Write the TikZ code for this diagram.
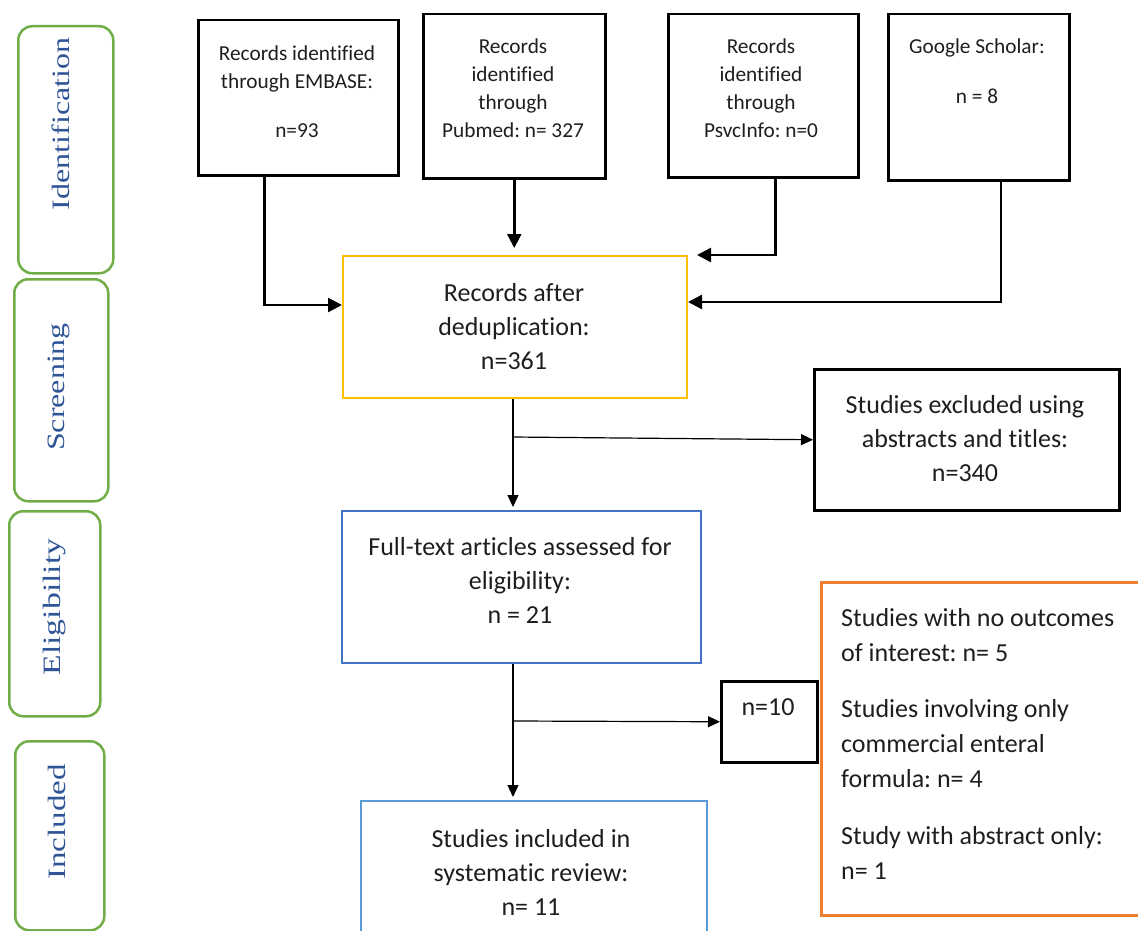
\documentclass[tikz,border=0pt]{standalone}
\usepackage{fontspec}
\setmainfont{Carlito}[Ligatures={NoCommon}]
\newfontfamily\labfont{Liberation Serif}
\usetikzlibrary{arrows.meta}
\definecolor{gr}{RGB}{112,173,71}
\definecolor{labc}{RGB}{47,85,151}
\definecolor{yl}{RGB}{255,192,0}
\definecolor{bl}{RGB}{68,114,196}
\definecolor{lbl}{RGB}{91,155,213}
\definecolor{orn}{RGB}{237,125,49}
\definecolor{txt}{RGB}{30,30,30}
\frenchspacing
\begin{document}
\begin{tikzpicture}[x=1pt,y=-1pt,
  blackbox/.style={draw=black, line width=2.5pt, anchor=north west, inner sep=0pt},
  colbox/.style={draw=#1, line width=2pt, anchor=north west, inner sep=0pt},
  stagebox/.style={draw=gr, line width=2.5pt, rounded corners=14pt, anchor=north west, inner sep=0pt},
  stagetext/.style={rotate=90, text=labc, font=\labfont\fontsize{25}{28}\selectfont, inner sep=0pt},
  small/.style={font=\fontsize{21.3}{28}\selectfont, align=center, text=txt, inner sep=0pt},
  big/.style={font=\fontsize{26}{34}\selectfont, align=center, text=txt, inner sep=0pt},
  tarr/.style={line width=2.5pt, -{Triangle[length=14pt,width=14pt]}},
  narr/.style={line width=1.2pt, -{Triangle[length=12pt,width=11pt]}}
]
\useasboundingbox (0,0) rectangle (1138,931);

% stage labels
\node[stagebox, minimum width=95pt, minimum height=247pt] (idl) at (17,25) {};
\node[stagebox, minimum width=94pt, minimum height=222pt] (scl) at (13,278) {};
\node[stagebox, minimum width=91pt, minimum height=205pt] (ell) at (8,510) {};
\node[stagebox, minimum width=89pt, minimum height=189pt] (inl) at (14,740) {};
\node[stagetext] (idt) at (61,124) {\scalebox{1.28}[1]{Identification}};
\node[stagetext] (sct) at (59,387) {\scalebox{1.28}[1]{Screening}};
\node[stagetext] (elt) at (55,607) {\scalebox{1.35}[1]{Eligibility}};
\node[stagetext] (int) at (57,822) {\scalebox{1.32}[1]{Included}};

% source boxes
\node[blackbox, minimum width=200pt, minimum height=155pt] (emb) at (197,19) {};
\node[blackbox, minimum width=182pt, minimum height=164pt] (pub) at (422,13) {};
\node[blackbox, minimum width=190pt, minimum height=163pt] (psy) at (667,13) {};
\node[blackbox, minimum width=181pt, minimum height=166pt] (goo) at (887,13) {};
\node[small] (embt) at (297,91.5) {Records identified\\through EMBASE:\\[21pt]n=93};
\node[small] (pubt) at (513,88) {Records\\identified\\through\\Pubmed: n= 327};
\node[small] (psyt) at (761,88) {Records\\identified\\through\\PsvcInfo: n=0};
\node[small] (goot) at (977,71) {Google Scholar:\\[22pt]n = 8};

% main boxes
\node[colbox=yl, minimum width=344pt, minimum height=142pt] (dedup) at (342,255) {};
\node[big] (dedupt) at (514,327) {Records after\\deduplication:\\n=361};
\node[blackbox, minimum width=305pt, minimum height=141pt] (excl) at (813,368) {};
\node[big] (exclt) at (965,439) {Studies excluded using\\abstracts and titles:\\n=340};
\node[colbox=bl, minimum width=359pt, minimum height=152pt] (full) at (341,510) {};
\node[big] (fullt) at (520,580.5) {Full-text articles assessed for\\eligibility:\\n = 21};
\node[blackbox, minimum width=96pt, minimum height=81pt] (n10) at (720,680) {};
\node[big] (n10t) at (768,707) {n=10};
\node[draw=orn, line width=2.5pt, anchor=north west, inner sep=0pt, minimum width=330pt, minimum height=333pt] (reas) at (820,581) {};
\node[big, align=left, anchor=west, font=\fontsize{26}{35}\selectfont] (reast) at (841,744) {Studies with no outcomes\\of interest: n= 5\\[21pt]Studies involving only\\commercial enteral\\formula: n= 4\\[22pt]Study with abstract only:\\n= 1};
\node[colbox=lbl, minimum width=346pt, minimum height=150pt] (incl) at (360,800) {};
\node[big] (inclt) at (531,872.5) {Studies included in\\systematic review:\\n= 11};

% top connectors
\draw[tarr] ([xshift=-34pt]emb.south) |- ([yshift=22pt]dedup.west);
\draw[tarr, shorten >=7pt] (pub.south) -- (pub.south |- dedup.north);
\draw[tarr, shorten >=9pt] ([xshift=12pt]psy.south) |- (dedup.north east);
\draw[tarr] ([xshift=22pt]goo.south) |- ([yshift=25pt]dedup.east);

% lower connectors
\coordinate (s1) at ([xshift=-2pt]dedup.south);
\coordinate (b1) at (512,437);
\draw[narr, shorten >=3pt] (s1) -- (s1 |- full.north);
\draw[narr] (b1) -- (excl.west);
\coordinate (s2) at (s1 |- full.south);
\coordinate (b2) at (512,721);
\draw[narr, shorten >=3pt] (s2) -- (s2 |- incl.north);
\draw[narr] (b2) -- (n10.west);
\end{tikzpicture}
\end{document}
